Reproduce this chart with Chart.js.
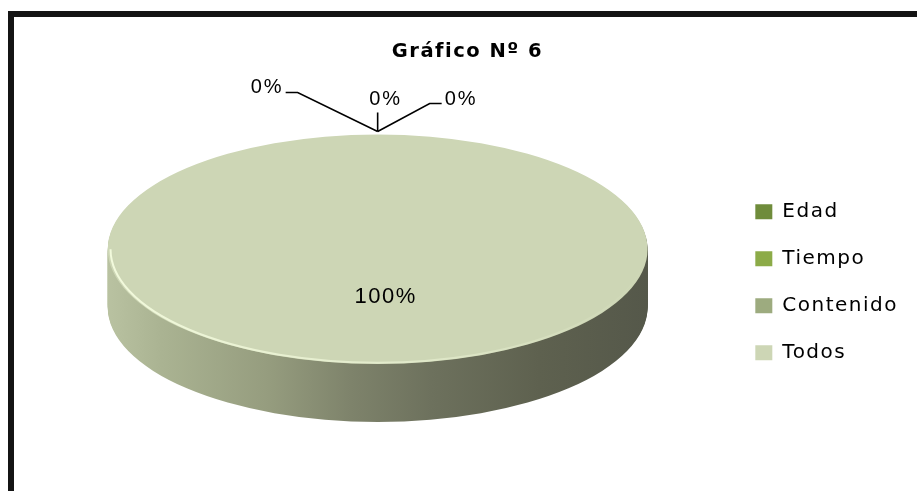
<!DOCTYPE html>
<html>
<head>
<meta charset="utf-8">
<style>
  html, body { margin: 0; padding: 0; background: #fff; }
  #wrap { position: relative; width: 917px; height: 491px; overflow: hidden; }
  #frame { position: absolute; left: 8px; top: 11px; width: 1000px; height: 1000px;
           border-left: 6px solid #141414; border-top: 6px solid #141414; pointer-events: none; }
</style>
<script src="https://cdn.jsdelivr.net/npm/chart.js@4.4.1/dist/chart.umd.min.js"></script>
</head>
<body>
<div id="wrap">
  <canvas id="myChart" width="917" height="491"></canvas>
  <div id="frame"></div>
</div>
<script>
// data
const categories = ['Edad', 'Tiempo', 'Contenido', 'Todos'];
const values = [0, 0, 0, 100];
const chartTitle = 'Gráfico Nº 6';

// look
const sliceColors = ['#6f8c3b', '#8cab48', '#9dab7f', '#cdd6b5'];
const TILT_X = 1.40;   // horizontal stretch of the pie top
const TILT_Y = 0.595;  // vertical squash of the pie top
const DEPTH = 58;      // thickness of the 3d side in px
const INNER_LABEL_DX = 8;

// leader lines for the 0% labels, relative to where the slice meets the rim
const LEADERS = [
  { pts: [[-80, -39], [-92, -39]], text: [-94, -38], align: 'right' },
  { pts: [[0, -19]], text: [8, -26], align: 'center' },
  { pts: [[52, -28], [64, -28]], text: [67, -26], align: 'left' }
];

function ellipsePath(ctx, cx, cy, r, start, end, sector) {
  ctx.save();
  ctx.translate(cx, cy);
  ctx.scale(TILT_X, TILT_Y);
  ctx.beginPath();
  if (sector) ctx.moveTo(0, 0);
  ctx.arc(0, 0, r, start, end);
  if (sector) ctx.closePath();
  ctx.restore();
}

const pie3d = {
  id: 'pie3d',
  beforeUpdate(chart) { chart.ctx.letterSpacing = '1.5px'; },
  beforeDraw(chart) { chart.ctx.letterSpacing = '1.5px'; },
  beforeDatasetsDraw(chart) {
    const ctx = chart.ctx;
    const meta = chart.getDatasetMeta(0);
    const a0 = meta.data[0];
    const cx = a0.x, cy = a0.y - DEPTH / 2, R = a0.outerRadius;
    const rx = R * TILT_X;

    const side = ctx.createLinearGradient(cx - rx, 0, cx + rx, 0);
    side.addColorStop(0, '#b9c2a1');
    side.addColorStop(0.1, '#aab392');
    side.addColorStop(0.3, '#959c7e');
    side.addColorStop(0.45, '#7e836b');
    side.addColorStop(0.6, '#6d715d');
    side.addColorStop(0.8, '#5e614f');
    side.addColorStop(1, '#55584a');

    meta.data.forEach(arc => {
      const p = arc.getProps(['startAngle', 'endAngle', 'outerRadius'], true);
      if (p.endAngle - p.startAngle <= 0) return;
      for (let d = DEPTH; d > 0; d--) {
        ellipsePath(ctx, cx, cy + d, p.outerRadius, p.startAngle, p.endAngle, true);
        ctx.fillStyle = side;
        ctx.fill();
      }
    });

    // top face: let chart.js draw the slices through the tilt
    ctx.save();
    ctx.translate(cx, cy);
    ctx.scale(TILT_X, TILT_Y);
    ctx.translate(-a0.x, -a0.y);
  },
  afterDatasetsDraw(chart) {
    const ctx = chart.ctx;
    ctx.restore();

    const meta = chart.getDatasetMeta(0);
    const a0 = meta.data[0];
    const cx = a0.x, cy = a0.y - DEPTH / 2, R = a0.outerRadius;
    const rx = R * TILT_X, ry = R * TILT_Y;

    // light rim on the front edge
    const rim = ctx.createLinearGradient(cx + rx, 0, cx - rx, 0);
    rim.addColorStop(0, 'rgba(242,250,220,0)');
    rim.addColorStop(0.45, 'rgba(242,250,220,0.55)');
    rim.addColorStop(1, 'rgba(242,250,220,1)');
    ellipsePath(ctx, cx, cy, R - 2, 0, Math.PI, false);
    ctx.strokeStyle = rim;
    ctx.lineWidth = 2;
    ctx.stroke();

    // data labels
    const total = values.reduce((s, v) => s + v, 0);
    let z = 0;
    ctx.save();
    ctx.fillStyle = '#000';
    ctx.strokeStyle = '#000';
    meta.data.forEach((arc, i) => {
      const p = arc.getProps(['startAngle', 'endAngle'], true);
      const txt = Math.round(values[i] / total * 100) + '%';
      if (values[i] > 0) {
        const mid = (p.startAngle + p.endAngle) / 2;
        const x = cx + Math.cos(mid) * rx * 0.42 + INNER_LABEL_DX;
        const y = cy + Math.sin(mid) * ry * 0.42;
        ctx.letterSpacing = '1.5px';
        ctx.font = '22px "Liberation Sans", Arial, sans-serif';
        ctx.textAlign = 'center';
        ctx.textBaseline = 'middle';
        ctx.fillText(txt, x, y);
      } else {
        const ax = cx + Math.cos(p.startAngle) * rx;
        const ay = cy + Math.sin(p.startAngle) * ry - 3;
        const L = LEADERS[z++ % LEADERS.length];
        ctx.lineWidth = 1.6;
        ctx.beginPath();
        ctx.moveTo(ax, ay);
        L.pts.forEach(q => ctx.lineTo(ax + q[0], ay + q[1]));
        ctx.stroke();
        ctx.letterSpacing = '2px';
        ctx.font = '20px "Liberation Sans", Arial, sans-serif';
        ctx.textAlign = L.align;
        ctx.textBaseline = 'alphabetic';
        ctx.fillText(txt, ax + L.text[0], ay + L.text[1]);
      }
    });
    ctx.restore();
  }
};

new Chart(document.getElementById('myChart'), {
  type: 'pie',
  data: {
    labels: categories,
    datasets: [{
      data: values,
      backgroundColor: sliceColors,
      borderWidth: 0,
      hoverOffset: 0,
      clip: false
    }]
  },
  options: {
    responsive: false,
    animation: false,
    events: [],
    layout: { padding: { left: 27, right: 9, top: 0, bottom: 20 } },
    plugins: {
      title: {
        display: true,
        text: chartTitle,
        color: '#000',
        font: { family: 'DejaVu Sans', size: 19.5, weight: 'bold' },
        padding: { top: 40, bottom: 22 }
      },
      legend: {
        position: 'right',
        fullSize: false,
        // empty legend title only nudges the entries down a little
        title: { display: true, text: '', font: { size: 5 }, padding: { top: 0, bottom: 2 } },
        labels: {
          color: '#000',
          font: { family: 'DejaVu Sans', size: 20 },
          boxWidth: 17,
          boxHeight: 15,
          padding: 27
        }
      },
      tooltip: { enabled: false }
    }
  },
  plugins: [pie3d]
});
</script>
</body>
</html>
